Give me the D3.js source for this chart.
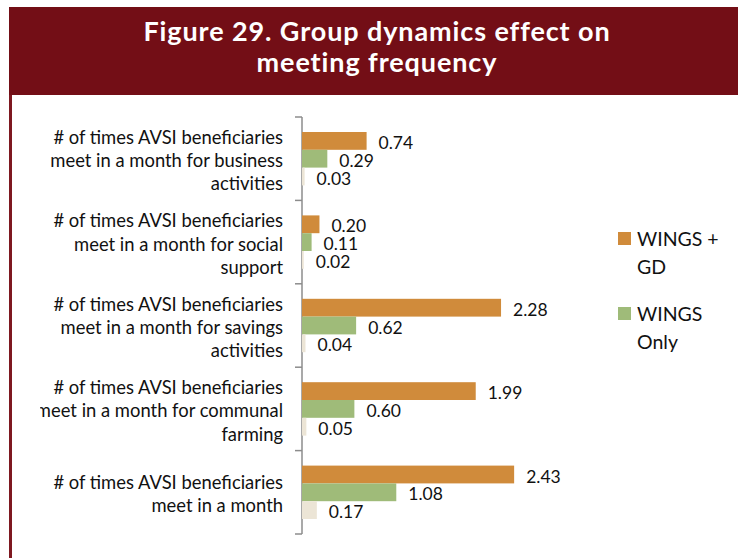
<!DOCTYPE html>
<html>
<head>
<meta charset="utf-8">
<script src="https://cdn.jsdelivr.net/npm/d3@7"></script>
<style>
  body { margin: 0; background: #fff; }
  svg { display: block; }
</style>
</head>
<body>
<div id="chart"></div>
<script>
// data
var categories = ['business', 'social', 'savings', 'communal', 'month'];
var categoryLines = [
  ['# of times AVSI beneficiaries', 'meet in a month for business', 'activities'],
  ['# of times AVSI beneficiaries', 'meet in a month for social', 'support'],
  ['# of times AVSI beneficiaries', 'meet in a month for savings', 'activities'],
  ['# of times AVSI beneficiaries', 'meet in a month for communal', 'farming'],
  ['# of times AVSI beneficiaries', 'meet in a month']
];
var seriesNames = ['WINGS + GD', 'WINGS Only', 'Control'];
var wingsGD   = [0.74, 0.20, 2.28, 1.99, 2.43];
var wingsOnly = [0.29, 0.11, 0.62, 0.60, 1.08];
var control   = [0.03, 0.02, 0.04, 0.05, 0.17];
var legendLines = [['WINGS +', 'GD'], ['WINGS', 'Only']];
var titleLines = ['Figure 29. Group dynamics effect on', 'meeting frequency'];

var colors = ['#D08B3B', '#9FBB79', '#ECE5D6'];
var values = [wingsGD, wingsOnly, control];

var W = 738, H = 558;
var font = 'Lato, "Open Sans", sans-serif';

var svg = d3.select('#chart').append('svg')
  .attr('width', W).attr('height', H);

// title banner
svg.append('rect')
  .attr('x', 9).attr('y', 7).attr('width', W - 9).attr('height', 88)
  .attr('fill', '#730E16');
svg.append('rect')
  .attr('x', 9).attr('y', 95).attr('width', 3).attr('height', H - 95)
  .attr('fill', '#7E1820');

svg.append('text')
  .attr('x', 377).attr('y', 41)
  .attr('text-anchor', 'middle')
  .attr('fill', '#fff')
  .style('font-family', font).style('font-weight', 700).style('font-size', '27px')
  .style('letter-spacing', '0.9px')
  .selectAll('tspan').data(titleLines).enter().append('tspan')
  .attr('x', 377).attr('dy', (d, i) => i === 0 ? 0 : 31)
  .text(d => d);

// scales
var y0 = d3.scaleBand().domain(categories).range([117, 534]);
var y1 = d3.scaleBand().domain(seriesNames)
  .range([15, y0.bandwidth() - 15]);
var x = d3.scaleLinear().domain([0, 3]).range([302, 302 + 3 * 87.3]);

// axis with ticks between categories
var tickYs = categories.map(c => y0(c)).concat([y0.range()[1]]);
var axis = svg.append('g');
axis.append('line')
  .attr('x1', x(0)).attr('x2', x(0))
  .attr('y1', tickYs[0]).attr('y2', tickYs[tickYs.length - 1])
  .attr('stroke', '#8c8c8c').attr('stroke-width', 1.5);
axis.selectAll('line.tick').data(tickYs).enter().append('line')
  .attr('class', 'tick')
  .attr('x1', x(0) - 7).attr('x2', x(0))
  .attr('y1', d => d).attr('y2', d => d)
  .attr('stroke', '#8c8c8c').attr('stroke-width', 1.5);

// bars
var rows = [];
categories.forEach((c, ci) => {
  seriesNames.forEach((s, si) => {
    rows.push({cat: c, series: s, si: si, v: values[si][ci]});
  });
});

svg.append('g').selectAll('rect').data(rows).enter().append('rect')
  .attr('x', x(0))
  .attr('y', d => y0(d.cat) + y1(d.series))
  .attr('width', d => x(d.v) - x(0))
  .attr('height', y1.bandwidth())
  .attr('fill', d => colors[d.si]);

svg.append('g').selectAll('text').data(rows).enter().append('text')
  .attr('x', d => x(d.v) + 12)
  .attr('y', d => y0(d.cat) + y1(d.series) + y1.bandwidth() / 2 + 2)
  .attr('dy', '0.35em')
  .attr('fill', '#111')
  .style('font-family', font).style('font-size', '17.5px')
  .text(d => d.v.toFixed(2));

// category labels (left side clipped like the original)
svg.append('clipPath').attr('id', 'labclip')
  .append('rect').attr('x', 40).attr('y', 100).attr('width', 260).attr('height', 450);

var labG = svg.append('g').attr('clip-path', 'url(#labclip)');
categories.forEach((c, ci) => {
  var lines = categoryLines[ci];
  var cy = y0(c) + y0.bandwidth() / 2 + 2;
  var lh = 23.3;
  labG.append('text')
    .attr('text-anchor', 'end')
    .attr('fill', '#111')
    .style('font-family', font).style('font-size', '18.4px')
    .selectAll('tspan').data(lines).enter().append('tspan')
    .attr('x', 283)
    .attr('y', (d, i) => cy + (i - (lines.length - 1) / 2) * lh)
    .attr('dy', '0.35em')
    .text(d => d);
});

// legend (two entries shown)
var leg = svg.append('g');
legendLines.forEach((lines, i) => {
  var top = 232 + i * 75;
  leg.append('rect')
    .attr('x', 618).attr('y', top).attr('width', 13).attr('height', 13)
    .attr('fill', colors[i]);
  leg.append('text')
    .attr('fill', '#111')
    .style('font-family', font).style('font-size', '19.5px')
    .selectAll('tspan').data(lines).enter().append('tspan')
    .attr('x', 637)
    .attr('y', (d, j) => top + 7 + j * 28.5)
    .attr('dy', '0.35em')
    .text(d => d);
});
</script>
</body>
</html>
